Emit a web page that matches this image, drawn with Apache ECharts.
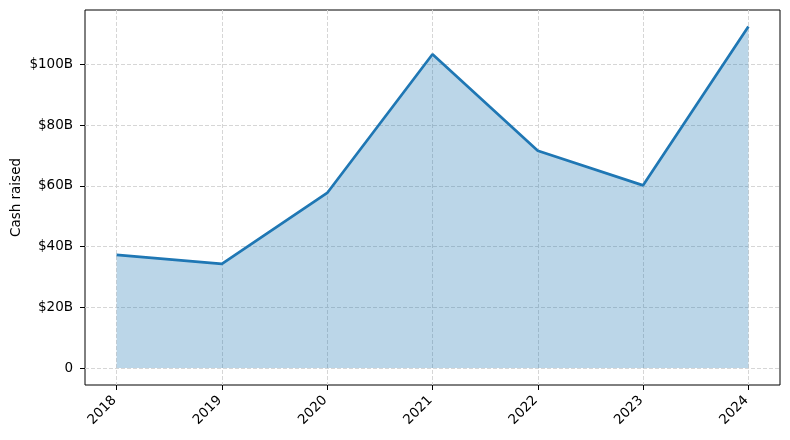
<!DOCTYPE html>
<html><head><meta charset="utf-8">
<script src="https://cdn.jsdelivr.net/npm/echarts@6/dist/echarts.min.js"></script>
<style>html,body{margin:0;padding:0;background:#fff}#c{width:790px;height:440px}</style>
</head><body><div id="c"></div>
<script>
const years = ['2018','2019','2020','2021','2022','2023','2024'];
const cashRaised = [37.3, 34.3, 57.7, 103.4, 71.6, 60.2, 112.6];
const yTicks = [0, 20, 40, 60, 80, 100];

const pts = cashRaised.map((v, i) => [i, v]);
const font = 'DejaVu Sans';
const grid = {lineStyle: {color: '#d6d6d6', type: [4, 2], width: 1}};
const chart = echarts.init(document.getElementById('c'), null, {renderer: 'canvas'});
chart.setOption({
  animation: false,
  grid: {left: 85, right: 10, top: 10, bottom: 55, show: true, borderColor: '#000', borderWidth: 1,
    containLabel: false, outerBoundsMode: 'none'},
  xAxis: {
    type: 'value', min: -0.3, max: 6.3,
    axisLine: {show: false, onZero: false},
    axisTick: {show: true, customValues: years.map((_, i) => i), length: 5, lineStyle: {color: '#000'}},
    axisLabel: {customValues: years.map((_, i) => i), formatter: v => years[v], rotate: 45,
      fontFamily: font, fontSize: 13.5, color: '#000', margin: 11, padding: [0, 3, 0, 0]},
    splitLine: {show: true, ...grid}
  },
  yAxis: {
    type: 'value', min: -5.6, max: 118,
    name: 'Cash raised', nameLocation: 'middle', nameGap: 62, nameMoveOverlap: false,
    nameTextStyle: {fontFamily: font, fontSize: 13.5, color: '#000'},
    axisLine: {show: false, onZero: false},
    axisTick: {show: true, customValues: yTicks, length: 5, lineStyle: {color: '#000'}},
    axisLabel: {customValues: yTicks, formatter: v => v === 0 ? '0' : '$' + v + 'B',
      fontFamily: font, fontSize: 13.5, color: '#000', margin: 12},
    splitLine: {show: true, ...grid}
  },
  series: [{
    type: 'line', data: pts, symbol: 'none',
    lineStyle: {color: '#1f77b4', width: 2.7},
    areaStyle: {color: 'rgba(31,119,180,0.3)', opacity: 1, origin: 0}
  }]
});
</script></body></html>
